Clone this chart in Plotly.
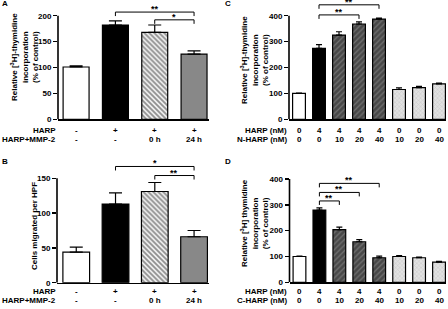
import plotly.graph_objects as go

W, H = 448, 309

# ---------------- data ----------------
a_vals = [101, 182, 168, 126]
a_err = [2, 8, 14, 6]
b_vals = [44, 113, 131, 66]
b_err = [7, 16, 13, 9]
c_vals = [100, 274, 325, 368, 387, 115, 122, 137]
c_err = [1, 14, 13, 8, 4, 6, 5, 3]
d_vals = [100, 280, 204, 157, 95, 100, 95, 78]
d_err = [1, 8, 10, 8, 6, 3, 3, 3]

ab_row1 = ["-", "+", "+", "+"]
ab_row2 = ["-", "-", "0 h", "24 h"]
cd_harp = ["0", "4", "4", "4", "4", "0", "0", "0"]
cd_frag = ["0", "0", "10", "20", "40", "10", "20", "40"]

a_ticks = [0, 50, 100, 150, 200]
b_ticks = [0, 50, 100, 150]
cd_ticks = [0, 100, 200, 300, 400]

a_brackets = [(1, 3, 207, "**"), (2, 3, 192, "*")]
b_brackets = [(1, 3, 167, "*"), (2, 3, 154, "**")]
c_brackets = [(1, 4, 442, "**"), (1, 3, 403, "**")]
d_brackets = [(1, 4, 383, "**"), (1, 3, 348, "**"), (1, 2, 315, "**")]

# ---------------- styles ----------------
WHITE = dict(color="white")
BLACK = dict(color="black")
HATCH_L = dict(color="white", pattern=dict(shape="\\", fgcolor="#303030", bgcolor="#f0f0f0", size=3.5, solidity=0.5))
GRAY = dict(color="#888888")
HATCH_D = dict(color="#555555", pattern=dict(shape="/", fgcolor="#9a9a9a", bgcolor="#484848", size=4, solidity=0.3))
DOTS = dict(color="#dddddd", pattern=dict(shape="x", fgcolor="#aaaaaa", bgcolor="#e2e2e2", size=3, solidity=0.3))

ab_styles = [WHITE, BLACK, HATCH_L, GRAY]
cd_styles = [WHITE, BLACK, HATCH_D, HATCH_D, HATCH_D, DOTS, DOTS, DOTS]

FONT = dict(family="Liberation Sans, Arial, sans-serif", size=8, color="black", weight="bold")

fig = go.Figure()

panels = [
    dict(ax="", vals=a_vals, err=a_err, styles=ab_styles, ticks=a_ticks, br=a_brackets,
         xpx=(58, 209), y0=119.3, yt=15.7, tv=200, ytop=6, xr=(-0.46, 3.38), bw=0.66, cap=6.5, tick=4),
    dict(ax="2", vals=b_vals, err=b_err, styles=ab_styles, ticks=b_ticks, br=b_brackets,
         xpx=(57, 209), y0=282.7, yt=178.3, tv=150, ytop=160, xr=(-0.49, 3.38), bw=0.68, cap=6.5, tick=4),
    dict(ax="3", vals=c_vals, err=c_err, styles=cd_styles, ticks=cd_ticks, br=c_brackets,
         xpx=(289, 446), y0=119.3, yt=15.7, tv=400, ytop=0.5, xr=(-0.5, 7.35), bw=0.64, cap=3, tick=4),
    dict(ax="4", vals=d_vals, err=d_err, styles=cd_styles, ticks=cd_ticks, br=d_brackets,
         xpx=(289.5, 446), y0=282.3, yt=179, tv=400, ytop=170, xr=(-0.5, 7.35), bw=0.64, cap=3, tick=4),
]

shapes = []
annotations = []

for p in panels:
    xa = "x" + p["ax"]
    ya = "y" + p["ax"]
    n = len(p["vals"])
    xs = list(range(n))
    for i in xs:
        st = p["styles"][i]
        marker = dict(color=st["color"], line=dict(color="black", width=1.2))
        if "pattern" in st:
            marker["pattern"] = st["pattern"]
        fig.add_trace(go.Bar(
            x=[i], y=[p["vals"][i]], width=p["bw"], marker=marker,
            error_y=dict(type="data", symmetric=False, array=[p["err"][i]], arrayminus=[0],
                         color="black", thickness=1.2, width=p["cap"]),
            xaxis=xa, yaxis=ya, showlegend=False, hoverinfo="skip",
        ))
    scale = (p["y0"] - p["yt"]) / p["tv"]
    ytop_val = (p["y0"] - p["ytop"]) / scale
    key = p["ax"]
    fig.layout["xaxis" + key] = dict(
        domain=[p["xpx"][0] / W, p["xpx"][1] / W], range=list(p["xr"]), automargin=False,
        anchor=ya, showline=True, linecolor="black", linewidth=1.6,
        showticklabels=False, ticks="", showgrid=False, zeroline=False, fixedrange=True,
    )
    fig.layout["yaxis" + key] = dict(
        domain=[1 - p["y0"] / H, 1 - p["ytop"] / H], range=[0, ytop_val], automargin=False,
        anchor=xa, showline=False, tickvals=p["ticks"], ticks="outside", ticklen=p["tick"],
        tickwidth=1.4, tickcolor="black", tickfont=FONT, showgrid=False, zeroline=False, fixedrange=True,
    )
    shapes.append(dict(type="line", xref=xa + " domain", yref=ya, x0=0, x1=0, y0=0, y1=p["ticks"][-1],
                       line=dict(color="black", width=1.6)))
    hook = 4 / scale
    for (i, j, yb, lab) in p["br"]:
        shapes.append(dict(type="path", xref=xa, yref=ya,
                           path=f"M {i},{yb - hook} L {i},{yb} L {j},{yb} L {j},{yb - hook}",
                           line=dict(color="black", width=1)))
        annotations.append(dict(x=(i + j) / 2, y=yb, xref=xa, yref=ya, text=lab, showarrow=False,
                                yanchor="bottom", yshift=-4, font=dict(FONT, size=9)))

def row(labels, xa, ypx, name, xlabel_px):
    for i, t in enumerate(labels):
        annotations.append(dict(x=i, y=1 - ypx / H, xref=xa, yref="paper", text=t, showarrow=False,
                                xanchor="center", yanchor="middle", font=FONT))
    annotations.append(dict(x=xlabel_px / W, y=1 - ypx / H, xref="paper", yref="paper", text=name,
                            showarrow=False, xanchor="right", yanchor="middle", font=FONT))

row(ab_row1, "x", 130.7, "HARP", 58)
row(ab_row2, "x", 139.5, "HARP+MMP-2", 58)
row(ab_row1, "x2", 291, "HARP", 58)
row(ab_row2, "x2", 300.5, "HARP+MMP-2", 58)
row(cd_harp, "x3", 130.7, "HARP (nM)", 289)
row(cd_frag, "x3", 139.5, "N-HARP (nM)", 289)
row(cd_harp, "x4", 291, "HARP (nM)", 289)
row(cd_frag, "x4", 300.5, "C-HARP (nM)", 289)

def ytitle(text, xpx, ypx):
    annotations.append(dict(x=xpx / W, y=1 - ypx / H, xref="paper", yref="paper", text=text,
                            showarrow=False, textangle=-90, xanchor="center", yanchor="middle",
                            font=dict(FONT, size=8)))

ytitle("Relative [<sup>3</sup>H]-thymidine<br>incorporation<br>(% of control)", 24, 57)
ytitle("Cells migrated per HPF", 34, 226)
ytitle("Relative [<sup>3</sup>H]-thymidine<br>incorporation<br>(% of control)", 254, 60)
ytitle("Relative [<sup>3</sup>H] thymidine<br>incorporation<br>(% of control)", 254, 223)

for lab, xpx, ypx in [("A", 5, 4), ("B", 5, 161), ("C", 228, 4), ("D", 228, 161)]:
    annotations.append(dict(x=xpx / W, y=1 - ypx / H, xref="paper", yref="paper", text=lab,
                            showarrow=False, xanchor="center", yanchor="middle", font=dict(FONT, size=8)))

fig.update_layout(
    width=W, height=H, margin=dict(l=0, r=0, t=0, b=0),
    paper_bgcolor="white", plot_bgcolor="white", hovermode=False,
    shapes=shapes, annotations=annotations, barmode="overlay", bargap=0,
)

fig.write_html("out.html", config={"displayModeBar": False, "staticPlot": True},
               post_script="document.body.style.margin='0';document.body.style.overflow='hidden';")
